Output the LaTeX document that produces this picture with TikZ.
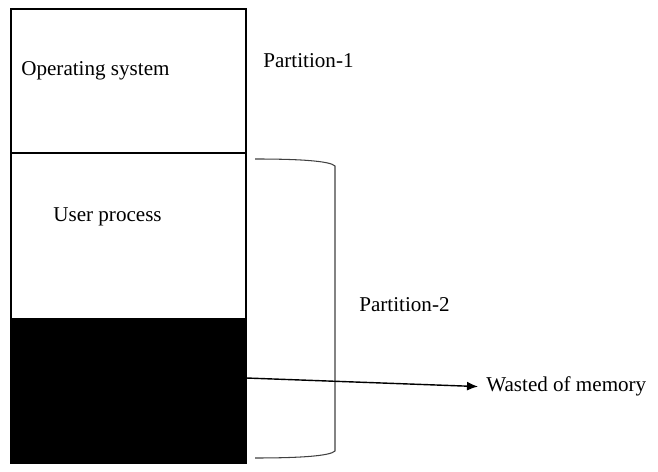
\documentclass[tikz,border=0pt]{standalone}
\usepackage{fontspec}
\setmainfont{Liberation Serif}
\usepackage{tikz}
\usetikzlibrary{arrows.meta}

\begin{document}
\begin{tikzpicture}[scale=1.0, every node/.style={font=\fontsize{12}{14}\selectfont, inner sep=0}]
    \useasboundingbox (0,0) rectangle (13.16,9.44);

    % Memory block
    \fill[black] (0.22,0.18) rectangle (4.92,3.06);
    \draw[line width=0.8pt] (0.22,0.18) rectangle (4.92,9.26);
    \draw[line width=0.8pt] (0.22,6.38) -- (4.92,6.38);
    \draw[line width=0.8pt] (0.22,3.06) -- (4.92,3.06);

    % Labels inside the block
    \node[anchor=base west] (os) at (0.42,7.92) {Operating system};
    \node[anchor=base west] (user) at (1.06,5.00) {User process};

    % Partitions
    \node[anchor=base west] (part1) at (5.26,8.08) {Partition-1};
    \draw[line width=0.6pt, black!75] (5.10,6.26) .. controls (6.0,6.26) and (6.6,6.22) .. (6.70,6.12)
        -- (6.70,0.42) .. controls (6.6,0.32) and (6.0,0.28) .. (5.10,0.28);
    \node[anchor=base west] (part2) at (7.18,3.20) {Partition-2};

    % Wasted memory
    \coordinate (hole) at (4.92,1.88);
    \node[anchor=base west] (wasted) at (9.72,1.60) {Wasted of memory};
    \draw[-{Latex[length=0.22cm, width=0.18cm]}, line width=0.8pt, shorten >=0.16cm] (hole) -- (wasted.west);
\end{tikzpicture}
\end{document}
